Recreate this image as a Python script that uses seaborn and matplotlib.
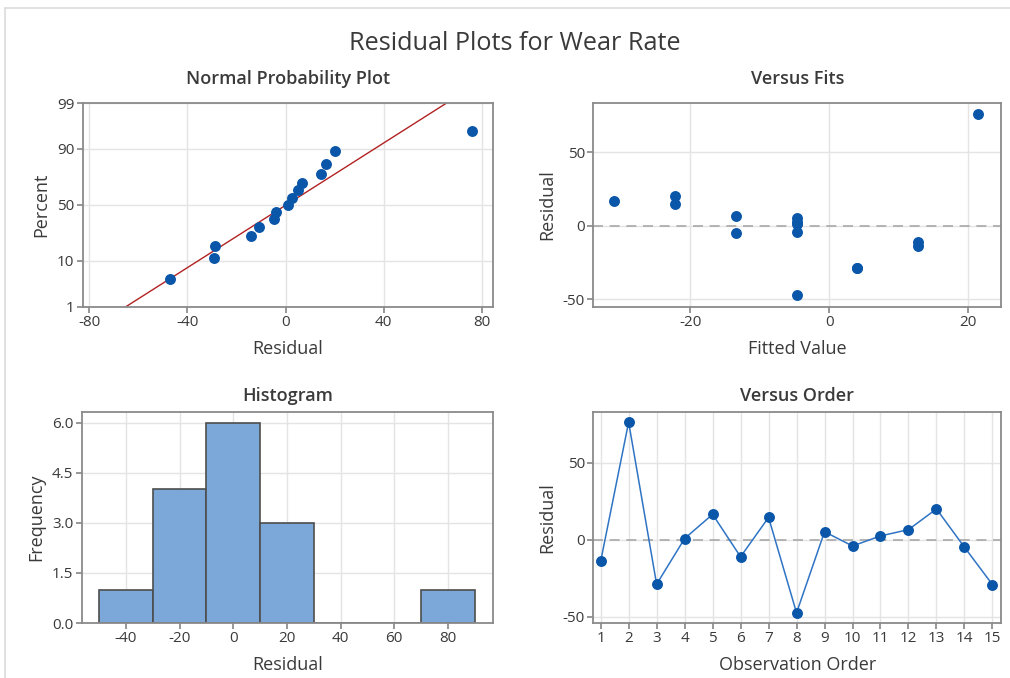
import numpy as np
import pandas as pd
import matplotlib.pyplot as plt
import seaborn as sns
from statistics import NormalDist

# residuals and fits per observation
observation = list(range(1, 16))
residual = [-14.0, 76.2, -28.8, 0.8, 16.5, -11.0, 14.5, -47.3,
            5.2, -4.0, 2.5, 6.6, 20.0, -4.8, -29.0]
fitted = [12.8, 21.5, 4.0, -4.7, -31.0, 12.8, -22.2, -4.7,
          -4.7, -4.7, -4.7, -13.5, -22.2, -13.5, 4.0]
percent_ticks = [1, 10, 50, 90, 99]
hist_bins = [-50, -30, -10, 10, 30, 50, 70, 90]

BLUE = "#0a56a8"
LINE_BLUE = "#2f74c4"
TEXT = "#3a3a3a"

sns.set_theme(style="whitegrid", rc={
    "axes.edgecolor": "#8a8a8a",
    "axes.linewidth": 1.3,
    "axes.unicode_minus": False,
    "grid.color": "#e4e4e4",
    "grid.linewidth": 1.0,
    "xtick.bottom": True,
    "ytick.left": True,
    "xtick.major.size": 4,
    "ytick.major.size": 4,
    "xtick.color": "#8a8a8a",
    "ytick.color": "#8a8a8a",
    "xtick.labelcolor": TEXT,
    "ytick.labelcolor": TEXT,
    "xtick.labelsize": 11,
    "ytick.labelsize": 11,
})
plt.rcParams["font.family"] = ["Open Sans", "DejaVu Sans"]

df = pd.DataFrame({"obs": observation, "residual": residual, "fitted": fitted})

fig = plt.figure(figsize=(10.1, 6.78), dpi=100)
ax_np = fig.add_axes([0.0819, 0.5477, 0.406, 0.300])
ax_fit = fig.add_axes([0.5875, 0.5477, 0.4037, 0.300])
ax_hist = fig.add_axes([0.0809, 0.0811, 0.4076, 0.3117])
ax_ord = fig.add_axes([0.5875, 0.0811, 0.4037, 0.3117])

nd = NormalDist()

# normal probability plot
srt = df.sort_values("residual").reset_index(drop=True)
n = len(srt)
srt["z"] = [nd.inv_cdf((i + 1 - 0.3) / (n + 0.4)) for i in range(n)]
mu = np.mean(residual)
sd = np.std(residual, ddof=1)
z_lo, z_hi = nd.inv_cdf(0.01), nd.inv_cdf(0.99)
fit_line = pd.DataFrame({"z": [z_lo, z_hi]})
fit_line["x"] = mu + sd * fit_line["z"]
sns.lineplot(data=fit_line, x="x", y="z", ax=ax_np, color="#b22222", lw=1.0)
sns.scatterplot(data=srt, x="residual", y="z", ax=ax_np, color=BLUE, s=62,
                linewidth=0, zorder=3)
ax_np.set_xlim(-82.7, 84.5)
ax_np.set_ylim(z_lo, z_hi)
ax_np.set_xticks([-80, -40, 0, 40, 80])
ax_np.set_yticks([nd.inv_cdf(p / 100) for p in percent_ticks])
ax_np.set_yticklabels([str(p) for p in percent_ticks])
ax_np.set_xlabel("Residual")
ax_np.set_ylabel("Percent")

# versus fits
ax_fit.axhline(0, color="#a8a8a8", lw=1.2, ls=(0, (6, 4)), zorder=1)
sns.scatterplot(data=df, x="fitted", y="residual", ax=ax_fit, color=BLUE, s=62,
                linewidth=0, zorder=3)
ax_fit.set_xlim(-34.0, 24.8)
ax_fit.set_ylim(-55.1, 83.2)
ax_fit.set_xticks([-20, 0, 20])
ax_fit.set_yticks([-50, 0, 50])
ax_fit.set_xlabel("Fitted Value")
ax_fit.set_ylabel("Residual")

# histogram
sns.histplot(data=df, x="residual", bins=hist_bins, ax=ax_hist, color="#7ba7d9",
             edgecolor="#4d4d4d", linewidth=1.2, alpha=1)
ax_hist.set_xlim(-56.5, 97)
ax_hist.set_ylim(0, 6.33)
ax_hist.set_xticks([-40, -20, 0, 20, 40, 60, 80])
ax_hist.set_yticks([0, 1.5, 3.0, 4.5, 6.0])
ax_hist.set_yticklabels(["0.0", "1.5", "3.0", "4.5", "6.0"])
ax_hist.set_xlabel("Residual")
ax_hist.set_ylabel("Frequency")

# versus order
ax_ord.axhline(0, color="#a8a8a8", lw=1.2, ls=(0, (6, 4)), zorder=1)
sns.lineplot(data=df, x="obs", y="residual", ax=ax_ord, color=LINE_BLUE, lw=1.1)
sns.scatterplot(data=df, x="obs", y="residual", ax=ax_ord, color=BLUE, s=62,
                linewidth=0, zorder=3)
ax_ord.set_xlim(0.74, 15.31)
ax_ord.set_ylim(-53.9, 83)
ax_ord.set_xticks(observation)
ax_ord.set_yticks([-50, 0, 50])
ax_ord.set_xlabel("Observation Order")
ax_ord.set_ylabel("Residual")

titles = {ax_np: ("Normal Probability Plot", 14), ax_fit: ("Versus Fits", 14),
          ax_hist: ("Histogram", 8), ax_ord: ("Versus Order", 8)}
for ax, (title, pad) in titles.items():
    ax.set_axisbelow(True)
    ax.set_title(title, fontsize=13, color=TEXT, fontweight="semibold", pad=pad)
    ax.xaxis.label.set_fontsize(13)
    ax.yaxis.label.set_fontsize(13)
    ax.xaxis.label.set_color(TEXT)
    ax.yaxis.label.set_color(TEXT)
    ax.xaxis.labelpad = 7
    ax.yaxis.labelpad = 5
    ax.tick_params(pad=2)

fig.text(0.51, 1 - 44 / 678, "Residual Plots for Wear Rate", ha="center", va="center",
         fontsize=18.2, color=TEXT)

# screenshot frame
fig.add_artist(plt.Line2D([0.005, 1], [0.988, 0.988], color="#dcdcdc", lw=1.2))
fig.add_artist(plt.Line2D([0.005, 0.005], [0, 0.988], color="#dcdcdc", lw=1.2))

plt.savefig("out.png", dpi=100)
